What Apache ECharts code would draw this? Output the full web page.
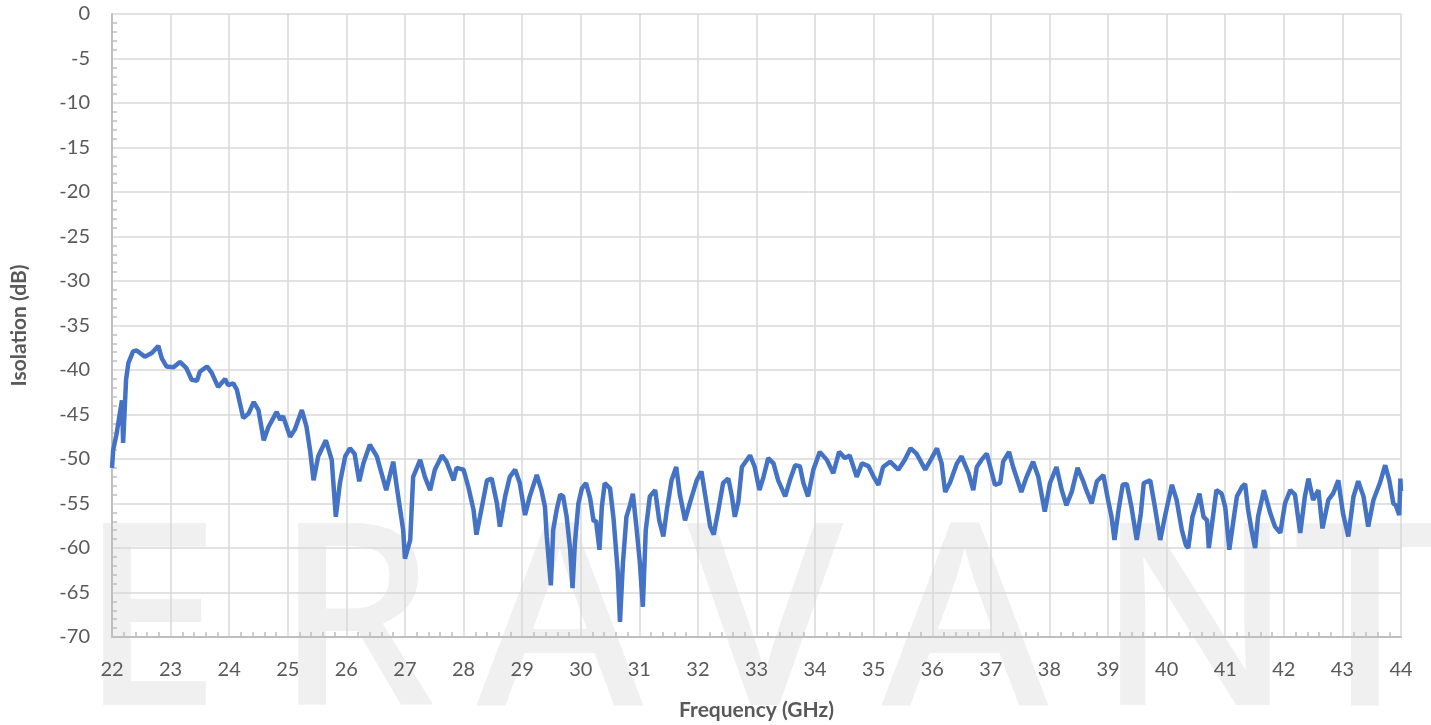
<!DOCTYPE html>
<html>
<head>
<meta charset="utf-8">
<title>Isolation vs Frequency</title>
<script src="https://cdn.jsdelivr.net/npm/echarts@6/dist/echarts.min.js"></script>
<style>
  html, body { margin: 0; padding: 0; background: #fff; }
  #chart { width: 1431px; height: 725px; }
</style>
</head>
<body>
<div id="chart"></div>
<script>
const freq = [
  22.00, 22.02, 22.08, 22.17, 22.19, 22.24, 22.28, 22.36, 22.42, 22.56,
  22.68, 22.79, 22.85, 22.93, 23.05, 23.16, 23.27, 23.36, 23.45, 23.50,
  23.62, 23.70, 23.81, 23.93, 23.98, 24.07, 24.13, 24.24, 24.33, 24.42,
  24.50, 24.59, 24.67, 24.81, 24.87, 24.92, 25.04, 25.12, 25.24, 25.32,
  25.38, 25.44, 25.52, 25.65, 25.75, 25.82, 25.89, 25.98, 26.06, 26.14,
  26.22, 26.29, 26.40, 26.52, 26.68, 26.80, 26.86, 26.97, 27.00, 27.09,
  27.14, 27.26, 27.34, 27.43, 27.51, 27.63, 27.71, 27.83, 27.88, 28.00,
  28.08, 28.17, 28.22, 28.28, 28.40, 28.48, 28.57, 28.62, 28.71, 28.79,
  28.88, 28.96, 29.05, 29.13, 29.25, 29.33, 29.39, 29.42, 29.49, 29.53,
  29.59, 29.65, 29.70, 29.76, 29.82, 29.86, 29.90, 29.96, 30.02, 30.09,
  30.16, 30.22, 30.26, 30.32, 30.36, 30.41, 30.50, 30.56, 30.63, 30.67,
  30.72, 30.78, 30.84, 30.89, 30.95, 31.01, 31.06, 31.11, 31.18, 31.27,
  31.34, 31.41, 31.47, 31.55, 31.63, 31.69, 31.78, 31.87, 31.98, 32.06,
  32.12, 32.21, 32.27, 32.35, 32.43, 32.52, 32.58, 32.63, 32.69, 32.75,
  32.89, 32.97, 33.05, 33.12, 33.20, 33.29, 33.37, 33.49, 33.57, 33.66,
  33.74, 33.80, 33.88, 33.97, 34.08, 34.20, 34.31, 34.41, 34.51, 34.59,
  34.71, 34.80, 34.91, 35.00, 35.08, 35.16, 35.28, 35.42, 35.53, 35.63,
  35.73, 35.88, 35.99, 36.08, 36.16, 36.22, 36.30, 36.42, 36.50, 36.62,
  36.70, 36.76, 36.84, 36.93, 36.99, 37.07, 37.16, 37.21, 37.31, 37.38,
  37.52, 37.61, 37.72, 37.81, 37.92, 38.01, 38.12, 38.21, 38.29, 38.38,
  38.48, 38.57, 38.63, 38.72, 38.81, 38.92, 39.00, 39.06, 39.11, 39.18,
  39.25, 39.32, 39.40, 39.49, 39.56, 39.61, 39.72, 39.80, 39.89, 39.97,
  40.09, 40.17, 40.26, 40.33, 40.37, 40.44, 40.56, 40.63, 40.69, 40.72,
  40.79, 40.85, 40.94, 41.00, 41.07, 41.14, 41.20, 41.29, 41.34, 41.39,
  41.45, 41.51, 41.56, 41.66, 41.77, 41.85, 41.94, 42.02, 42.11, 42.19,
  42.28, 42.36, 42.42, 42.50, 42.59, 42.66, 42.76, 42.84, 42.93, 43.01,
  43.10, 43.19, 43.27, 43.36, 43.44, 43.53, 43.64, 43.73, 43.80, 43.87,
  43.91, 43.97, 43.99, 44.00
];
const isolation = [
  -51.0, -49.0, -47.1, -43.4, -48.2, -41.1, -39.2, -37.9, -37.8, -38.5,
  -38.1, -37.3, -38.7, -39.6, -39.7, -39.1, -39.8, -41.1, -41.2, -40.2,
  -39.6, -40.3, -41.9, -41.0, -41.7, -41.5, -42.2, -45.4, -44.9, -43.6,
  -44.5, -47.9, -46.4, -44.7, -45.6, -45.2, -47.5, -46.7, -44.5, -46.4,
  -49.0, -52.4, -49.7, -47.9, -50.1, -56.5, -52.7, -49.7, -48.8, -49.4,
  -52.5, -50.5, -48.4, -49.7, -53.5, -50.3, -53.1, -58.0, -61.2, -59.1,
  -52.0, -50.1, -52.0, -53.5, -51.2, -49.6, -50.3, -52.4, -51.0, -51.2,
  -53.1, -55.7, -58.5, -56.5, -52.4, -52.2, -55.0, -57.6, -54.2, -52.0,
  -51.2, -52.7, -56.3, -54.2, -51.8, -53.5, -55.4, -58.7, -64.2, -58.0,
  -55.7, -54.0, -54.2, -56.5, -60.2, -64.5, -59.5, -55.0, -53.3, -52.7,
  -54.4, -57.0, -56.9, -60.2, -55.4, -52.7, -53.3, -56.7, -62.5, -68.3,
  -61.7, -56.5, -55.2, -53.9, -57.6, -61.7, -66.6, -58.0, -54.2, -53.5,
  -56.9, -58.7, -55.7, -52.4, -50.9, -53.9, -56.9, -54.8, -52.4, -51.4,
  -53.9, -57.6, -58.5, -55.7, -52.7, -52.2, -54.2, -56.5, -54.8, -50.9,
  -49.6, -50.9, -53.5, -52.0, -49.9, -50.5, -52.4, -54.2, -52.4, -50.7,
  -50.8, -52.7, -54.2, -51.2, -49.2, -50.1, -51.6, -49.2, -49.9, -49.6,
  -52.0, -50.5, -50.8, -52.0, -52.9, -50.9, -50.3, -51.2, -50.1, -48.8,
  -49.4, -51.2, -49.9, -48.8, -50.5, -53.7, -52.7, -50.5, -49.7, -51.6,
  -53.5, -50.9, -50.1, -49.4, -50.9, -52.9, -52.7, -50.3, -49.2, -50.9,
  -53.7, -52.0, -50.3, -52.0, -55.9, -52.7, -50.9, -53.5, -55.2, -53.7,
  -51.0, -52.4, -53.5, -55.0, -52.5, -51.8, -54.6, -56.5, -59.1, -55.7,
  -52.9, -52.8, -55.4, -59.1, -56.1, -52.7, -52.4, -55.4, -59.1, -56.5,
  -52.9, -54.6, -58.0, -59.7, -60.0, -56.5, -53.9, -56.5, -56.9, -60.0,
  -56.5, -53.5, -53.9, -55.4, -60.2, -56.9, -54.2, -53.1, -52.8, -55.7,
  -58.0, -60.0, -56.5, -53.5, -56.1, -57.6, -58.3, -55.0, -53.5, -54.0,
  -58.3, -54.2, -52.2, -54.6, -53.5, -57.8, -54.6, -53.9, -52.4, -56.1,
  -58.7, -54.2, -52.5, -54.2, -57.6, -54.6, -52.7, -50.7, -52.4, -55.0,
  -55.2, -56.3, -52.2, -53.6
];
const xTitle = 'Frequency (GHz)';
const yTitle = 'Isolation (dB)';
const watermark = ['E', 'R', 'A', 'V', 'A', 'N', 'T'];

const chart = echarts.init(document.getElementById('chart'));

// big grey logo letters sitting behind the grid
const wmX = [150, 355, 560, 765, 965, 1195, 1365];
const wmElements = watermark.map((ch, i) => ({
  type: 'text',
  x: wmX[i],
  y: 632,
  z: -10,
  silent: true,
  style: {
    text: ch,
    fill: '#f0f0f0',
    font: '500 255px "Noto Sans"',
    align: 'center',
    verticalAlign: 'middle'
  }
}));

const axisFont = { color: '#595959', fontSize: 20, fontFamily: 'Lato' };

chart.setOption({
  animation: false,
  backgroundColor: '#fff',
  graphic: { elements: wmElements },
  grid: { left: 112, right: 30, top: 14, bottom: 88, containLabel: false, outerBoundsMode: 'none' },
  xAxis: {
    type: 'value',
    min: 22, max: 44, interval: 1,
    name: xTitle,
    nameLocation: 'middle',
    nameGap: 63,
    nameTextStyle: { color: '#595959', fontSize: 21, fontWeight: 'bold', fontFamily: 'Lato' },
    axisLine: { onZero: false, lineStyle: { color: '#bfbfbf', width: 2 } },
    axisTick: { show: false, inside: true },
    minorTick: { show: true, splitNumber: 5, length: 5, lineStyle: { color: '#bfbfbf', width: 1.5 } },
    axisLabel: Object.assign({ margin: 23 }, axisFont),
    splitLine: { show: true, lineStyle: { color: '#d9d9d9', width: 1.5 } }
  },
  yAxis: {
    type: 'value',
    min: -70, max: 0, interval: 5,
    name: yTitle,
    nameLocation: 'middle',
    nameGap: 82,
    nameRotate: 90,
    nameTextStyle: { color: '#595959', fontSize: 21, fontWeight: 'bold', fontFamily: 'Lato' },
    axisLine: { show: true, onZero: false, lineStyle: { color: '#bfbfbf', width: 2 } },
    axisTick: { show: false, inside: true },
    minorTick: { show: true, splitNumber: 5, length: 5, lineStyle: { color: '#bfbfbf', width: 1.5 } },
    axisLabel: Object.assign({ margin: 22 }, axisFont),
    splitLine: { show: true, lineStyle: { color: '#d9d9d9', width: 1.5 } }
  },
  series: [{
    type: 'line',
    data: freq.map((f, i) => [f, isolation[i]]),
    showSymbol: false,
    lineStyle: { color: '#4472c4', width: 4.5 },
    z: 5
  }]
});
</script>
</body>
</html>
